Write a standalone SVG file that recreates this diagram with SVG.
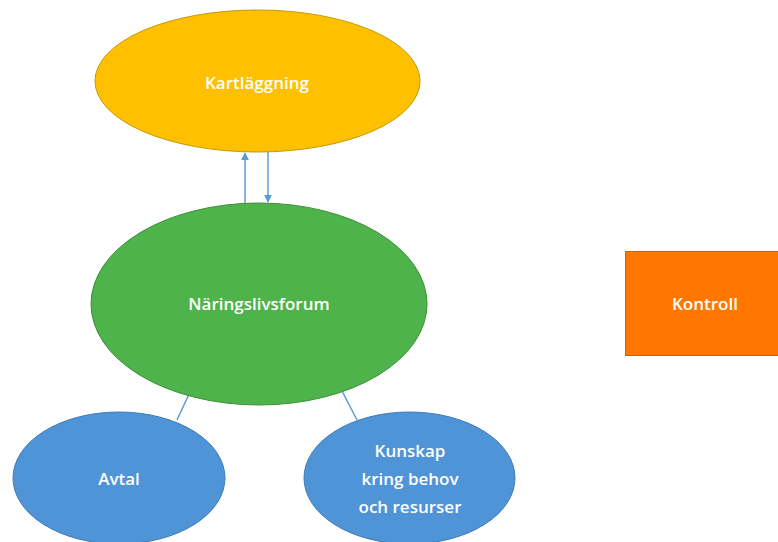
<svg xmlns="http://www.w3.org/2000/svg" width="778" height="542" viewBox="0 0 778 542">
<defs>
<style>
.lbl{font-family:"Open Sans","Liberation Sans",sans-serif;font-size:17px;font-weight:600;fill:#fff;text-anchor:middle;dominant-baseline:central}
.conn{stroke:#5B9BD5;stroke-width:1.5;fill:none}
</style>
<marker id="ah" viewBox="0 0 10 10" refX="9" refY="5" markerWidth="8" markerHeight="8" orient="auto-start-reverse" markerUnits="userSpaceOnUse">
<path d="M0,0 L10,5 L0,10 z" fill="#5B9BD5"/>
</marker>
</defs>
<rect width="778" height="542" fill="#fff"/>
<g id="connectors">
<line class="conn" x1="245" y1="203" x2="245" y2="153" marker-end="url(#ah)"/>
<line class="conn" x1="268" y1="152" x2="268" y2="202" marker-end="url(#ah)"/>
<line class="conn" x1="190" y1="392" x2="177" y2="420"/>
<line class="conn" x1="342" y1="391" x2="357" y2="420"/>
</g>
<g id="kartlaggning">
<ellipse cx="257.5" cy="81" rx="162.5" ry="71" fill="#FFC000" stroke="#C49A00" stroke-width="1"/>
<text class="lbl" x="257" y="82">Kartläggning</text>
</g>
<g id="naringslivsforum">
<ellipse cx="259" cy="304" rx="168" ry="101" fill="#4EB34A" stroke="#3C8F38" stroke-width="1"/>
<text class="lbl" x="259" y="303">Näringslivsforum</text>
</g>
<g id="avtal">
<ellipse cx="119" cy="478" rx="106" ry="66" fill="#4F94D6" stroke="#3F7DB8" stroke-width="1"/>
<text class="lbl" x="119" y="478">Avtal</text>
</g>
<g id="kunskap">
<ellipse cx="409.5" cy="478" rx="105.5" ry="66" fill="#4F94D6" stroke="#3F7DB8" stroke-width="1"/>
<text class="lbl" x="410" y="450">Kunskap</text>
<text class="lbl" x="410" y="478">kring behov</text>
<text class="lbl" x="410" y="506">och resurser</text>
</g>
<g id="kontroll">
<rect x="625.5" y="251.5" width="160" height="104" fill="#FF7700" stroke="#D06010" stroke-width="1"/>
<text class="lbl" x="705" y="303">Kontroll</text>
</g>
</svg>
